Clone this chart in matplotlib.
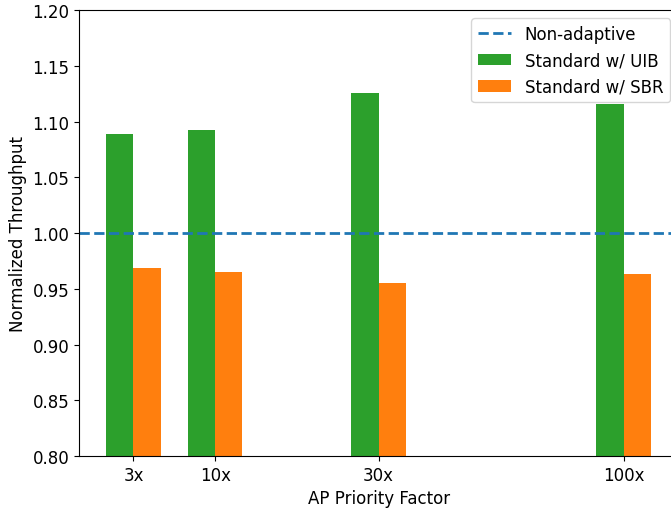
import matplotlib.pyplot as plt

factors = ['3x', '10x', '30x', '100x']
positions = [0, 1, 3, 6]
uib = [1.089, 1.092, 1.126, 1.116]
sbr = [0.969, 0.965, 0.955, 0.963]
baseline = 1.0

width = 1 / 3

fig = plt.figure(figsize=(6.71, 5.10), dpi=100)
ax = fig.add_axes([0.1177, 0.1039, 0.893, 0.8745])
plt.rcParams['font.size'] = 12

ax.axhline(baseline, color='#1f77b4', linestyle='--', linewidth=2, label='Non-adaptive')
ax.bar([p - width / 2 for p in positions], uib, width, color='#2ca02c', label='Standard w/ UIB')
ax.bar([p + width / 2 for p in positions], sbr, width, color='#ff7f0e', label='Standard w/ SBR')

ax.set_ylim(0.8, 1.2)
ax.set_xticks(positions)
ax.set_xticklabels(factors, fontsize=12)
ax.tick_params(axis='y', labelsize=12)
ax.set_xlabel('AP Priority Factor', fontsize=12)
ax.set_ylabel('Normalized Throughput', fontsize=12)
ax.legend(loc='upper right', fontsize=12)

fig.savefig('out.png', dpi=100)
